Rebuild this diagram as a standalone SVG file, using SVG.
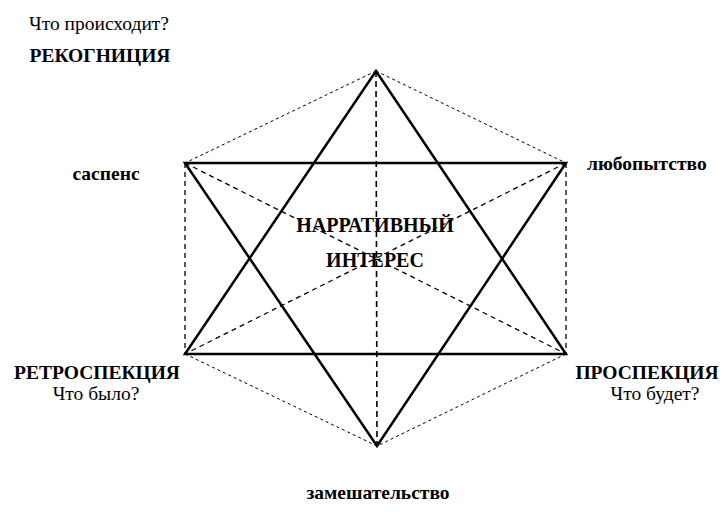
<svg xmlns="http://www.w3.org/2000/svg" width="723" height="528" viewBox="0 0 723 528">
<style>
.solid{stroke:#000;stroke-width:2.5;fill:none;stroke-linejoin:miter}
.dot{stroke:#000;stroke-width:1;fill:none;stroke-dasharray:3 3}
.dash{stroke:#000;stroke-width:1.3;fill:none;stroke-dasharray:5 4}
.vdash{stroke:#000;stroke-width:1.6;fill:none;stroke-dasharray:6 4}
.t{font-size:19.5px;fill:#000}
.b{font-weight:bold}
.c{font-size:20px;font-weight:bold}
</style>
<rect width="723" height="528" fill="#fff"/>
<g id="connectors">
<path class="dot" d="M376,71 L185,163 M376,71 L566,163 M185,354 L377,446 M566,354 L377,446"/>
<path class="dash" d="M185,163 L185,354 M566,163 L566,354"/>
<path class="dash" d="M185,163 L566,354 M566,163 L185,354"/>
<path class="vdash" d="M376,71 L377,446"/>
<polygon class="solid" points="376,71 566,354 185,354"/>
<polygon class="solid" points="185,163 566,163 377,446"/>
</g>
<g font-family="'Liberation Serif', 'DejaVu Serif', serif">
<g id="node-center">
<text class="t c" x="375" y="232" text-anchor="middle">НАРРАТИВНЫЙ</text>
<text class="t c" x="375" y="267" text-anchor="middle">ИНТЕРЕС</text>
</g>
<g id="node-recognition">
<text class="t" x="99" y="30" text-anchor="middle">Что происходит?</text>
<text class="t b" x="100" y="62" text-anchor="middle">РЕКОГНИЦИЯ</text>
</g>
<g id="node-suspense">
<text class="t b" x="106" y="180" text-anchor="middle">саспенс</text>
</g>
<g id="node-curiosity">
<text class="t b" x="587" y="170">любопытство</text>
</g>
<g id="node-retrospection">
<text class="t b" x="97" y="379" text-anchor="middle">РЕТРОСПЕКЦИЯ</text>
<text class="t" x="96" y="400" text-anchor="middle">Что было?</text>
</g>
<g id="node-prospection">
<text class="t b" x="647" y="379" text-anchor="middle">ПРОСПЕКЦИЯ</text>
<text class="t" x="655" y="400" text-anchor="middle">Что будет?</text>
</g>
<g id="node-confusion">
<text class="t b" x="378" y="499" text-anchor="middle">замешательство</text>
</g>
</g>
</svg>
